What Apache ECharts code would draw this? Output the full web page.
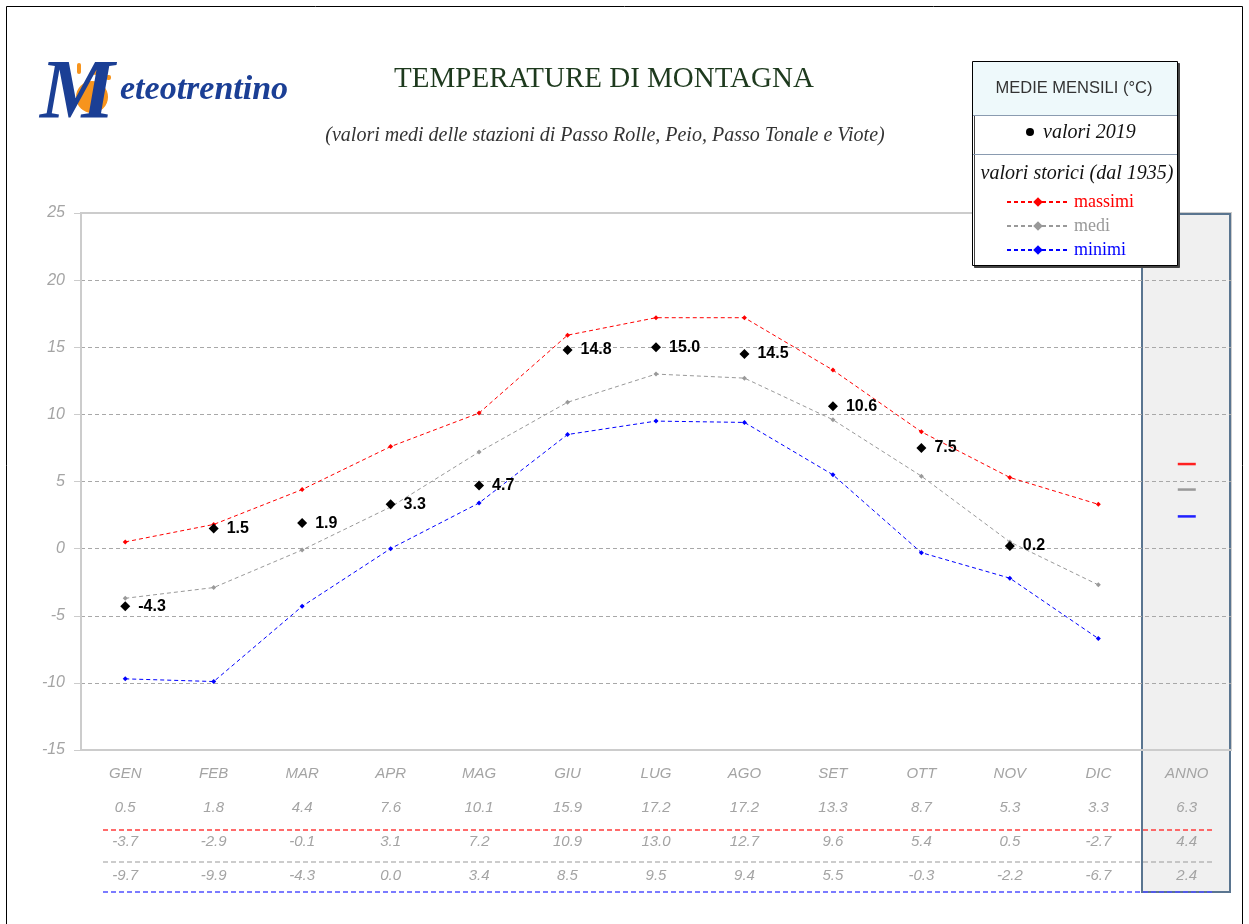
<!DOCTYPE html>
<html>
<head>
<meta charset="utf-8" />
<title>Temperature di montagna</title>
<script src="https://cdn.jsdelivr.net/npm/echarts@6/dist/echarts.min.js"></script>
<style>
  html, body { margin: 0; padding: 0; background: #fff; }
  #main { width: 1249px; height: 924px; }
</style>
</head>
<body>
<div id="main"></div>
<script>
// categorie (mesi + colonna annuale)
var mesi = ['GEN', 'FEB', 'MAR', 'APR', 'MAG', 'GIU', 'LUG', 'AGO', 'SET', 'OTT', 'NOV', 'DIC'];
var annoLabel = 'ANNO';

// valori storici (dal 1935)
var massimi = [0.5, 1.8, 4.4, 7.6, 10.1, 15.9, 17.2, 17.2, 13.3, 8.7, 5.3, 3.3];
var medi = [-3.7, -2.9, -0.1, 3.1, 7.2, 10.9, 13.0, 12.7, 9.6, 5.4, 0.5, -2.7];
var minimi = [-9.7, -9.9, -4.3, 0.0, 3.4, 8.5, 9.5, 9.4, 5.5, -0.3, -2.2, -6.7];
var annoMassimi = 6.3;
var annoMedi = 4.4;
var annoMinimi = 2.4;

// valori 2019 (dicembre non disponibile)
var valori2019 = [-4.3, 1.5, 1.9, 3.3, 4.7, 14.8, 15.0, 14.5, 10.6, 7.5, 0.2, null];

// tick asse y
var yMin = -15, yMax = 25, yStep = 5;

var categorie = mesi.concat([annoLabel]);
var tabMax = massimi.concat([annoMassimi]);
var tabMed = medi.concat([annoMedi]);
var tabMin = minimi.concat([annoMinimi]);

function mensile(arr) { return arr.concat([null]); }
function annuale(v) {
  var a = mesi.map(function () { return null; });
  a.push(v);
  return a;
}

var chart = echarts.init(document.getElementById('main'));
var serif = '"Liberation Serif", "DejaVu Serif", serif';
var sans = '"Liberation Sans", Arial, sans-serif';

function lineSerie(name, data, color) {
  return {
    name: name,
    type: 'line',
    data: mensile(data),
    symbol: 'diamond',
    symbolSize: 5,
    showSymbol: true,
    connectNulls: false,
    lineStyle: { color: color, width: 1, type: [4, 3] },
    itemStyle: { color: color },
    z: 3
  };
}

function annoSerie(name, v, color) {
  return {
    name: name + '_anno',
    type: 'scatter',
    data: annuale(v),
    symbol: 'rect',
    symbolSize: [18, 2.5],
    itemStyle: { color: color, opacity: 1 },
    z: 3
  };
}

chart.setOption({
  backgroundColor: '#fff',
  animation: false,
  grid: {
    left: 81, right: 18, top: 213, bottom: 174,
    show: true, borderColor: '#cccccc', borderWidth: 2, backgroundColor: 'transparent'
  },
  xAxis: {
    type: 'category',
    data: categorie,
    boundaryGap: true,
    axisLine: { show: true, onZero: false, lineStyle: { color: '#cccccc', width: 2 } },
    axisTick: { show: false },
    splitLine: { show: false },
    axisLabel: {
      margin: 7,
      interval: 0,
      color: '#a4a4a4',
      fontStyle: 'italic',
      fontFamily: sans,
      fontSize: 15,
      lineHeight: 34,
      formatter: function (value, idx) {
        return value + '\n' + tabMax[idx].toFixed(1) + '\n' +
          tabMed[idx].toFixed(1) + '\n' + tabMin[idx].toFixed(1);
      }
    }
  },
  yAxis: {
    type: 'value',
    z: 1,
    min: yMin,
    max: yMax,
    interval: yStep,
    axisLine: { show: true, lineStyle: { color: '#cccccc', width: 2 } },
    axisTick: { show: true, length: 7, lineStyle: { color: '#cccccc' } },
    axisLabel: {
      margin: 16,
      color: '#a4a4a4',
      fontStyle: 'italic',
      fontFamily: sans,
      fontSize: 16
    },
    splitLine: {
      show: true,
      showMinLine: false,
      showMaxLine: false,
      lineStyle: { color: '#a8a8a8', type: [4, 3], width: 1 }
    }
  },
  legend: {
    orient: 'vertical',
    left: 1001,
    top: 188,
    itemGap: 6,
    itemWidth: 62,
    itemHeight: 12,
    z: 20,
    selectedMode: false,
    textStyle: { fontFamily: serif, fontSize: 18 },
    data: [
      { name: 'massimi', textStyle: { color: '#ff0000' } },
      { name: 'medi', textStyle: { color: '#999999' } },
      { name: 'minimi', textStyle: { color: '#0000ff' } }
    ]
  },
  graphic: [
    // cornice
    { type: 'rect', shape: { x: 6.5, y: 6.5, width: 1236, height: 940 },
      style: { fill: null, stroke: '#000', lineWidth: 1 } },
    // colonna ANNO
    { type: 'rect', shape: { x: 1142, y: 214, width: 88, height: 678 },
      style: { fill: '#f0f0f0', stroke: '#5a7590', lineWidth: 2 } },
    // separatori tabella
    { type: 'line', shape: { x1: 103, y1: 830, x2: 1213, y2: 830 },
      style: { stroke: '#ff3b3b', lineWidth: 1.5, lineDash: [5, 3] } },
    { type: 'line', shape: { x1: 103, y1: 862, x2: 1213, y2: 862 },
      style: { stroke: '#9a9a9a', lineWidth: 1.2, lineDash: [5, 3] } },
    { type: 'line', shape: { x1: 103, y1: 892, x2: 1213, y2: 892 },
      style: { stroke: '#5050ff', lineWidth: 1.5, lineDash: [5, 3] } },
    // logo
    { type: 'circle', shape: { cx: 92, cy: 97, r: 16 }, style: { fill: '#f7941d' } },
    { type: 'rect', shape: { x: 77, y: 63, width: 4, height: 11, r: 2 }, style: { fill: '#f7941d' } },
    { type: 'rect', shape: { x: 93, y: 66, width: 4, height: 9, r: 2 }, style: { fill: '#f7941d' } },
    { type: 'rect', shape: { x: 106, y: 75, width: 5, height: 5, r: 2 }, style: { fill: '#f7941d' } },
    { type: 'text', left: 40, top: 54,
      style: { text: 'M', fill: '#1b3f95', font: 'italic bold 84px ' + serif } },
    { type: 'text', left: 120, top: 73,
      style: { text: 'eteotrentino', fill: '#1b3f95', font: 'italic bold 34px ' + serif } },
    // titoli
    { type: 'text', x: 604, y: 79,
      style: { text: 'TEMPERATURE DI MONTAGNA', fill: '#1e3a1e', font: '29px ' + serif,
        align: 'center', verticalAlign: 'middle' } },
    { type: 'text', x: 605, y: 136,
      style: { text: '(valori medi delle stazioni di Passo Rolle, Peio, Passo Tonale e Viote)',
        fill: '#333', font: 'italic 20px ' + serif, align: 'center', verticalAlign: 'middle' } },
    // riquadro legenda
    { type: 'rect', shape: { x: 972.5, y: 61.5, width: 205, height: 204 },
      style: { fill: '#fff', stroke: '#000', lineWidth: 1,
        shadowColor: '#444', shadowOffsetX: 2, shadowOffsetY: 2, shadowBlur: 0 } },
    { type: 'rect', shape: { x: 973, y: 62, width: 204, height: 53 },
      style: { fill: '#eef9fb' } },
    { type: 'line', shape: { x1: 973, y1: 115.5, x2: 1177, y2: 115.5 },
      style: { stroke: '#8a9bb0', lineWidth: 1 } },
    { type: 'line', shape: { x1: 973, y1: 154.5, x2: 1177, y2: 154.5 },
      style: { stroke: '#8a9bb0', lineWidth: 1 } },
    { type: 'text', x: 1074, y: 88,
      style: { text: 'MEDIE MENSILI (°C)', fill: '#333', font: '16.5px ' + sans,
        align: 'center', verticalAlign: 'middle' } },
    { type: 'circle', shape: { cx: 1030, cy: 132, r: 4 }, style: { fill: '#000' } },
    { type: 'text', x: 1043, y: 133,
      style: { text: 'valori 2019', fill: '#111', font: 'italic 20px ' + serif,
        align: 'left', verticalAlign: 'middle' } },
    { type: 'text', x: 1077, y: 174,
      style: { text: 'valori storici (dal 1935)', fill: '#111', font: 'italic 20px ' + serif,
        align: 'center', verticalAlign: 'middle' } }
  ],
  series: [
    lineSerie('massimi', massimi, '#ff0000'),
    lineSerie('medi', medi, '#999999'),
    lineSerie('minimi', minimi, '#0000ff'),
    annoSerie('massimi', annoMassimi, '#ff2020'),
    annoSerie('medi', annoMedi, '#999999'),
    annoSerie('minimi', annoMinimi, '#2020ff'),
    {
      name: 'valori 2019',
      type: 'scatter',
      data: valori2019.concat([null]),
      symbol: 'diamond',
      symbolSize: 10,
      itemStyle: { color: '#000', opacity: 1 },
      z: 5,
      label: {
        show: true,
        position: 'right',
        distance: 8,
        color: '#000',
        fontWeight: 'bold',
        fontFamily: sans,
        fontSize: 16,
        formatter: function (p) { return p.value.toFixed(1); }
      }
    }
  ]
});

window.onresize = function () { chart.resize(); };
</script>
</body>
</html>
